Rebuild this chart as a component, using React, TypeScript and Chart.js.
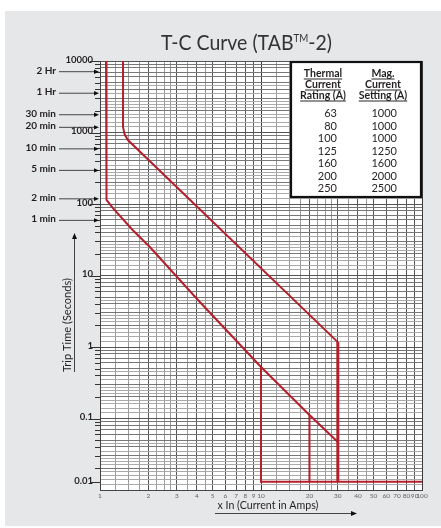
import React, { useEffect, useRef } from 'react';
import { Chart, registerables } from 'chart.js';
Chart.register(...registerables);

const TITLE_MAIN = 'T-C Curve (TAB';
const TITLE_SUP = 'TM';
const TITLE_END = '-2)';
const X_TITLE = 'x In (Current in Amps)';
const Y_TITLE = 'Trip Time (Seconds)';

// Curves (x = multiple of In, t = seconds)
const lowerX = [1.09, 1.09, 1.105, 1.2, 1.6, 2.04, 4.06, 10, 20, 30];
const lowerT = [10000, 134, 114, 88, 43, 25, 4.54, 0.525, 0.112, 0.047];
const upperX = [1.39, 1.39, 1.42, 1.49, 30];
const upperT = [10000, 1194, 950, 785, 1.17];
const cut30X = [30, 30];
const cut30T = [1.17, 0.013];
const cut10X = [10, 10, 100];
const cut10T = [0.525, 0.013, 0.013];
const cut20X = [20, 20];
const cut20T = [0.112, 0.013];

const X_MIN = 1;
const X_MAX = 100;
const Y_MIN = 0.01;
const Y_MAX = 10000;

const xLabelValues = [1, 2, 3, 4, 5, 6, 7, 8, 9, 10, 20, 30, 40, 50, 60, 70, 80, 90, 100];
const xGridMultipliers = [1, 1.25, 1.5, 1.75, 2, 2.25, 2.5, 2.75, 3, 3.5, 4, 4.5, 5, 6, 7, 8, 9];
const xDecades = [1, 10];
const yDecadeStarts = [0.01, 0.1, 1, 10, 100, 1000];
const yGridMultipliers = [1, 1.2, 1.4, 1.6, 1.8, 2, 2.25, 2.5, 2.75, 3, 3.5, 4, 4.5, 5, 6, 7, 8, 9];
const yDecadeValues = [0.01, 0.1, 1, 10, 100, 1000, 10000];
const yDecadeLabels = ['0.01', '0.1', '1', '10', '100', '1000', '10000'];
const yTickMarkMultipliers = [2, 3, 4, 5, 6, 7, 8, 9];

const timeMarkLabels = ['2 Hr', '1 Hr', '30 min', '20 min', '10 min', '5 min', '2 min', '1 min'];
const timeMarkSeconds = [7200, 3600, 1800, 1200, 600, 300, 120, 60];

const tableHeader1 = ['Thermal', 'Current', 'Rating (A)'];
const tableHeader2 = ['Mag.', 'Current', 'Setting (A)'];
const thermalRatings = ['63', '80', '100', '125', '160', '200', '250'];
const magSettings = ['1000', '1000', '1000', '1250', '1600', '2000', '2500'];

const RED = '#b3202c';
const FONT = '"Lato", "Open Sans", sans-serif';
const TEXT = '#231f20';

const round = (v: number) => Number(v.toPrecision(6));
const xGridValues = [...xDecades.flatMap(d => xGridMultipliers.map(m => round(m * d))), X_MAX];
const yGridValues = [...yDecadeStarts.flatMap(d => yGridMultipliers.map(m => round(m * d))), Y_MAX];

const mantissa = (v: number) => {
  const e = Math.floor(Math.log10(v) + 1e-9);
  return round(v / Math.pow(10, e));
};

const pts = (xs: number[], ts: number[]) => xs.map((x, i) => ({ x, y: ts[i] }));

function fitFont(ctx: CanvasRenderingContext2D, text: string, weight: string, base: number, target: number) {
  ctx.font = `${weight} ${base}px ${FONT}`;
  const w = ctx.measureText(text).width;
  const size = (base * target) / w;
  ctx.font = `${weight} ${size}px ${FONT}`;
  return size;
}

function arrowHead(ctx: CanvasRenderingContext2D, x: number, y: number, dir: 'right' | 'up', len = 5, half = 2.5) {
  ctx.beginPath();
  if (dir === 'right') {
    ctx.moveTo(x, y);
    ctx.lineTo(x - len, y - half);
    ctx.lineTo(x - len, y + half);
  } else {
    ctx.moveTo(x, y);
    ctx.lineTo(x - half, y + len);
    ctx.lineTo(x + half, y + len);
  }
  ctx.closePath();
  ctx.fill();
}

const decorPlugin = {
  id: 'decor',
  beforeDraw(chart: any) {
    const ctx: CanvasRenderingContext2D = chart.ctx;
    const a = chart.chartArea;
    ctx.save();
    ctx.fillStyle = '#ffffff';
    ctx.fillRect(0, 0, chart.width, chart.height);
    ctx.fillStyle = '#e6e7e8';
    ctx.fillRect(5, 11, chart.width - 5, chart.height - 13);
    ctx.fillStyle = '#ffffff';
    ctx.fillRect(a.left, a.top, a.right - a.left, a.bottom - a.top);
    ctx.restore();
  },
  afterDraw(chart: any) {
    const ctx: CanvasRenderingContext2D = chart.ctx;
    const a = chart.chartArea;
    const ys = chart.scales.y;
    ctx.save();

    // Title with superscript TM
    ctx.fillStyle = '#333333';
    ctx.textAlign = 'left';
    ctx.textBaseline = 'alphabetic';
    const size = 21;
    ctx.font = `400 ${size}px ${FONT}`;
    const w1 = ctx.measureText(TITLE_MAIN).width;
    const w3 = ctx.measureText(TITLE_END).width;
    ctx.font = `400 ${size * 0.5}px ${FONT}`;
    const w2 = ctx.measureText(TITLE_SUP).width;
    const total = w1 + w2 + w3;
    const sx = (171 / total);
    ctx.save();
    ctx.translate(161, 50);
    ctx.scale(sx, 1);
    ctx.font = `400 ${size}px ${FONT}`;
    ctx.fillText(TITLE_MAIN, 0, 0);
    ctx.font = `400 ${size * 0.5}px ${FONT}`;
    ctx.fillText(TITLE_SUP, w1, -8);
    ctx.font = `400 ${size}px ${FONT}`;
    ctx.fillText(TITLE_END, w1 + w2, 0);
    ctx.restore();

    // Y tick marks
    ctx.strokeStyle = '#333';
    ctx.lineWidth = 1;
    yDecadeStarts.forEach(d => {
      yTickMarkMultipliers.forEach(m => {
        const y = Math.round(ys.getPixelForValue(d * m)) + 0.5;
        ctx.beginPath();
        ctx.moveTo(a.left - 5, y);
        ctx.lineTo(a.left, y);
        ctx.stroke();
      });
    });

    // Y decade labels
    ctx.fillStyle = TEXT;
    ctx.textAlign = 'right';
    ctx.font = `bold 9.5px ${FONT}`;
    yDecadeValues.forEach((v, i) => {
      let y = ys.getPixelForValue(v);
      if (v === Y_MIN) y -= 8;
      ctx.fillText(yDecadeLabels[i], a.left - 7, y + 1.5);
      ctx.beginPath();
      ctx.moveTo(a.left - 10, Math.round(y) + 0.5);
      ctx.lineTo(a.left, Math.round(y) + 0.5);
      ctx.stroke();
    });

    // Time annotations
    ctx.font = `bold 10px ${FONT}`;
    ctx.lineWidth = 0.9;
    timeMarkLabels.forEach((lab, i) => {
      const y = ys.getPixelForValue(timeMarkSeconds[i]);
      ctx.fillStyle = TEXT;
      ctx.textAlign = 'right';
      ctx.fillText(lab, 56, y + 2.5);
      ctx.beginPath();
      ctx.moveTo(59, y + 0.5);
      ctx.lineTo(a.left - 4, y + 0.5);
      ctx.stroke();
      ctx.fillStyle = '#111';
      arrowHead(ctx, a.left - 1, y + 0.5, 'right', 5, 2.2);
    });

    // Y axis title + arrow
    ctx.save();
    ctx.translate(71, 325);
    ctx.rotate(-Math.PI / 2);
    ctx.fillStyle = TEXT;
    ctx.textAlign = 'center';
    fitFont(ctx, Y_TITLE, '400', 11, 94);
    ctx.fillText(Y_TITLE, 0, 0);
    ctx.restore();
    ctx.strokeStyle = '#444';
    ctx.lineWidth = 1;
    ctx.beginPath();
    ctx.moveTo(74.5, 372);
    ctx.lineTo(74.5, 238);
    ctx.stroke();
    ctx.fillStyle = '#111';
    arrowHead(ctx, 74.5, 233, 'up', 6, 2.5);

    // X axis title + arrow
    ctx.fillStyle = TEXT;
    ctx.textAlign = 'center';
    fitFont(ctx, X_TITLE, '400', 11, 101);
    ctx.fillText(X_TITLE, 268, 509);
    ctx.beginPath();
    ctx.moveTo(215, 513.5);
    ctx.lineTo(352, 513.5);
    ctx.stroke();
    ctx.fillStyle = '#111';
    arrowHead(ctx, 357, 513.5, 'right', 6, 2.5);

    // Legend table
    const bx = 291, by = 62, bw = 130, bh = 135;
    ctx.fillStyle = '#ffffff';
    ctx.fillRect(bx, by, bw, bh);
    ctx.strokeStyle = '#111';
    ctx.lineWidth = 2.2;
    ctx.strokeRect(bx, by, bw, bh);

    ctx.fillStyle = TEXT;
    ctx.font = `bold 10.5px ${FONT}`;
    ctx.textAlign = 'center';
    ctx.lineWidth = 0.9;
    const hdr = (lines: string[], cx: number) => {
      lines.forEach((t, i) => {
        const base = 77 + i * 11;
        ctx.fillText(t, cx, base);
        const w = ctx.measureText(t).width;
        ctx.beginPath();
        ctx.moveTo(cx - w / 2, base + 2);
        ctx.lineTo(cx + w / 2, base + 2);
        ctx.stroke();
      });
    };
    hdr(tableHeader1, 323);
    hdr(tableHeader2, 383);

    ctx.font = `11px ${FONT}`;
    ctx.textAlign = 'right';
    thermalRatings.forEach((t, i) => {
      const yb = 117 + i * 12.5;
      ctx.fillText(t, 337, yb);
      ctx.fillText(magSettings[i], 397, yb);
    });

    ctx.restore();
  },
};

export default function App() {
  const ref = useRef<HTMLCanvasElement>(null);
  useEffect(() => {
    const canvas = ref.current!;
    const line = (xs: number[], ts: number[], w = 2) => ({
      data: pts(xs, ts),
      showLine: true,
      borderColor: RED,
      backgroundColor: RED,
      borderWidth: w,
      pointRadius: 0,
      fill: false,
      tension: 0,
    });
    const chart = new Chart(canvas, {
      type: 'scatter',
      data: {
        datasets: [
          line(lowerX, lowerT),
          line(upperX, upperT),
          line(cut30X, cut30T, 3),
          line(cut10X, cut10T),
          line(cut20X, cut20T),
        ],
      },
      options: {
        responsive: false,
        devicePixelRatio: 1,
        animation: false,
        events: [],
        layout: { padding: { top: 61, right: 19, left: 0, bottom: 0 } },
        plugins: {
          legend: { display: false },
          title: { display: false },
          tooltip: { enabled: false },
        },
        scales: {
          x: {
            type: 'logarithmic',
            min: X_MIN,
            max: X_MAX,
            afterBuildTicks: (s: any) => {
              s.ticks = xGridValues.map(v => ({ value: v }));
            },
            afterFit: (s: any) => {
              s.height = 38;
            },
            ticks: {
              autoSkip: false,
              maxRotation: 0,
              minRotation: 0,
              padding: 2,
              color: '#666',
              font: { size: 6.5, family: FONT },
              callback: (v: any) => (xLabelValues.includes(round(Number(v))) ? String(round(Number(v))) : ''),
            },
            grid: {
              drawTicks: false,
              lineWidth: 1,
              color: (c: any) => {
                const v = c.tick ? c.tick.value : 1;
                const m = mantissa(v);
                if (m === 1) return '#3a3a3a';
                return Number.isInteger(m) ? '#555555' : '#9a9a9a';
              },
            },
            border: { display: true, color: '#444' },
          },
          y: {
            type: 'logarithmic',
            min: Y_MIN,
            max: Y_MAX,
            afterBuildTicks: (s: any) => {
              s.ticks = yGridValues.map(v => ({ value: v }));
            },
            afterFit: (s: any) => {
              s.width = 100;
            },
            ticks: { display: false },
            grid: {
              drawTicks: false,
              lineWidth: 1,
              color: (c: any) => {
                const v = c.tick ? c.tick.value : 1;
                const m = mantissa(v);
                if (m === 1) return '#555555';
                return Number.isInteger(m) ? '#777777' : '#aaaaaa';
              },
            },
            border: { display: true, color: '#444' },
          },
        },
      },
      plugins: [decorPlugin],
    } as any);
    return () => chart.destroy();
  }, []);
  return (
    <div style={{ position: 'absolute', left: 0, top: 0, width: 441, height: 528 }}>
      <canvas ref={ref} width={441} height={528} style={{ width: 441, height: 528, display: 'block' }} />
    </div>
  );
}
